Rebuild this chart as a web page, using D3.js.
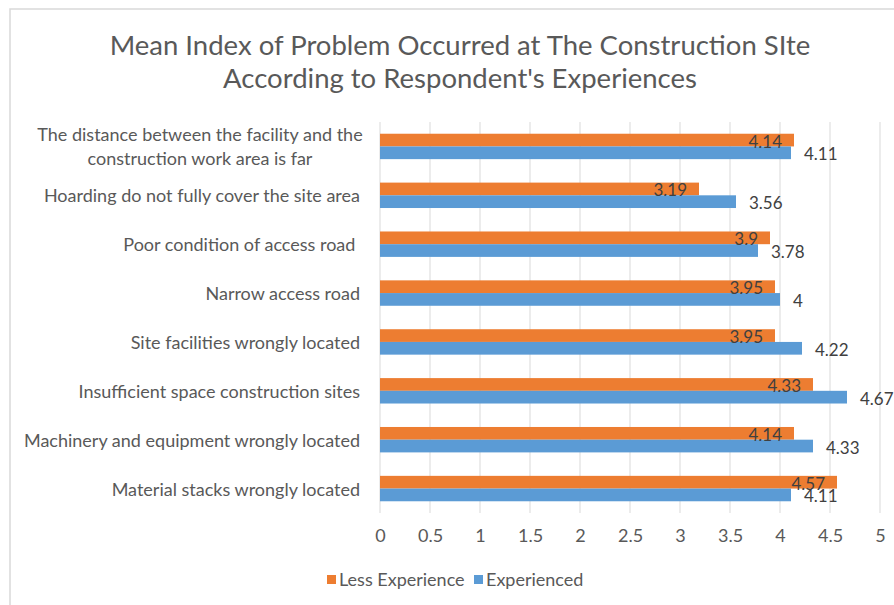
<!DOCTYPE html>
<html>
<head>
<meta charset="utf-8">
<script src="https://cdn.jsdelivr.net/npm/d3@7"></script>
<style>
  body { margin: 0; background: #fff; }
  text { font-family: Lato, "Open Sans", sans-serif; }
</style>
</head>
<body>
<script>
const categories = [
    "The distance between the facility and the\nconstruction work area is far",
    "Hoarding do not fully cover the site area",
    "Poor condition of access road ",
    "Narrow access road",
    "Site facilities wrongly located",
    "Insufficient space construction sites",
    "Machinery and equipment wrongly located",
    "Material stacks wrongly located"
];
const seriesNames = ["Less Experience", "Experienced"];
const lessExperience = [4.14, 3.19, 3.9, 3.95, 3.95, 4.33, 4.14, 4.57];
const experienced = [4.11, 3.56, 3.78, 4, 4.22, 4.67, 4.33, 4.11];
const xTicks = [0, 0.5, 1, 1.5, 2, 2.5, 3, 3.5, 4, 4.5, 5];
const titleLines = ["Mean Index of Problem Occurred at The Construction SIte",
                    "According to Respondent's Experiences"];

const colors = {"Less Experience": "#ED7D31", "Experienced": "#5B9BD5"};
const W = 894, H = 605;

const svg = d3.select("body").append("svg")
    .attr("width", W)
    .attr("height", H);

// chart frame
svg.append("path")
    .attr("d", `M10,${H} L10,9 L${W},9`)
    .attr("fill", "none")
    .attr("stroke", "#d9d9d9")
    .attr("stroke-width", 1.5);

// title
svg.append("g").selectAll("text")
    .data(titleLines)
    .enter()
    .append("text")
        .attr("x", 460)
        .attr("y", (d, i) => 44 + i * 33)
        .attr("text-anchor", "middle")
        .attr("dominant-baseline", "central")
        .attr("font-size", 27.5)
        .attr("fill", "#595959")
        .text(d => d);

const x = d3.scaleLinear()
    .domain([0, 5])
    .range([380, 880]);

const y = d3.scaleBand()
    .domain(categories)
    .range([122, 513])
    .paddingInner(0.48)
    .paddingOuter(0.24);

const ySub = d3.scaleBand()
    .domain(seriesNames)
    .range([0, y.bandwidth()]);

// gridlines
svg.append("g").selectAll("line")
    .data(xTicks)
    .enter()
    .append("line")
        .attr("x1", d => x(d))
        .attr("x2", d => x(d))
        .attr("y1", 122)
        .attr("y2", 513)
        .attr("stroke", "#d9d9d9")
        .attr("stroke-width", 1);

// x tick labels
const xAxis = svg.append("g")
    .attr("transform", "translate(0, 525)")
    .call(d3.axisBottom(x).tickValues(xTicks).tickSize(0).tickPadding(0).tickFormat(d3.format("")));
xAxis.select(".domain").remove();
xAxis.selectAll("text")
    .attr("dy", null)
    .attr("y", 10)
    .attr("dominant-baseline", "central")
    .attr("font-family", "Lato, sans-serif")
    .attr("font-size", 18)
    .attr("fill", "#595959");

// category labels
const labels = svg.append("g").selectAll("text")
    .data(categories)
    .enter()
    .append("text")
        .attr("y", d => y(d) + y.bandwidth() / 2)
        .attr("font-size", 18)
        .attr("fill", "#595959")
        .attr("dominant-baseline", "central")
        .style("white-space", "pre");
labels.each(function(d) {
    const lines = d.split("\n");
    const t = d3.select(this);
    if (lines.length === 1) {
        t.attr("x", 360).attr("text-anchor", "end").text(d);
    } else {
        // multi-line label: lines centred within the block, block right-aligned
        t.attr("text-anchor", "middle").attr("x", 200);
        lines.forEach((l, i) => {
            t.append("tspan")
                .attr("x", 200)
                .attr("dy", i === 0 ? -12 : 24)
                .text(l);
        });
    }
});

const rows = categories.map((c, i) => ({
    cat: c,
    vals: [
        {name: "Less Experience", v: lessExperience[i]},
        {name: "Experienced", v: experienced[i]}
    ]
}));

const groups = svg.append("g").selectAll("g")
    .data(rows)
    .enter()
    .append("g")
        .attr("transform", r => `translate(0, ${y(r.cat)})`);

groups.selectAll("rect")
    .data(r => r.vals)
    .enter()
    .append("rect")
        .attr("x", x(0))
        .attr("y", d => ySub(d.name))
        .attr("width", d => x(d.v) - x(0))
        .attr("height", ySub.bandwidth())
        .attr("fill", d => colors[d.name]);

// value labels: orange inside end, blue outside end
groups.selectAll("text")
    .data(r => r.vals)
    .enter()
    .append("text")
        .attr("x", d => d.name === "Less Experience" ? x(d.v) - 12 : x(d.v) + 13)
        .attr("y", d => ySub(d.name) + ySub.bandwidth() / 2 + 1)
        .attr("text-anchor", d => d.name === "Less Experience" ? "end" : "start")
        .attr("dominant-baseline", "central")
        .attr("font-size", 17)
        .attr("fill", "#404040")
        .text(d => d.v);

// legend
const legend = svg.append("g").selectAll("g")
    .data(seriesNames)
    .enter()
    .append("g")
        .attr("transform", (d, i) => `translate(${i === 0 ? 327 : 474}, 575)`);
legend.append("rect")
    .attr("width", 9)
    .attr("height", 9)
    .attr("fill", d => colors[d]);
legend.append("text")
    .attr("x", 12)
    .attr("y", 4)
    .attr("dominant-baseline", "central")
    .attr("font-size", 18)
    .attr("fill", "#595959")
    .text(d => d);
</script>
</body>
</html>
